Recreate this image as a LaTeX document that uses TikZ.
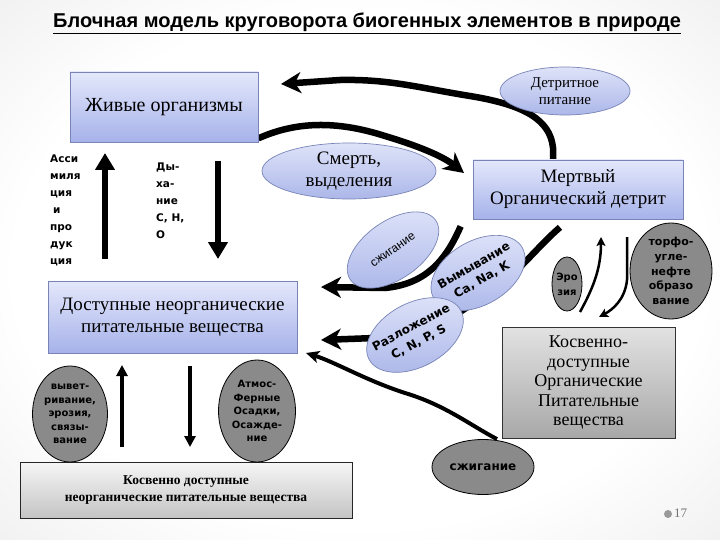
\documentclass[tikz,border=0pt]{standalone}
\usepackage{fontspec}
\usepackage{graphicx}
\setmainfont{Liberation Serif}
\newfontfamily\dvs{DejaVu Sans}
\newfontfamily\lsans{Liberation Sans}
\usetikzlibrary{arrows.meta,shapes.geometric,calc}
\newcommand{\fsz}[2]{\fontsize{#1}{#2}\selectfont}
\definecolor{bbtop}{RGB}{228,232,251}
\definecolor{bbbot}{RGB}{166,178,234}
\definecolor{bbdraw}{RGB}{120,132,182}
\definecolor{betop}{RGB}{222,227,249}
\definecolor{bebot}{RGB}{172,183,233}
\definecolor{gell}{RGB}{138,138,138}
\definecolor{gtop}{RGB}{226,226,226}
\definecolor{gbot}{RGB}{168,168,168}
\definecolor{g2top}{RGB}{246,246,246}
\definecolor{g2bot}{RGB}{196,196,196}
\pgfdeclareradialshading{vign}{\pgfpoint{0bp}{0bp}}{color(0bp)=(white); color(24bp)=(white); color(50bp)=(black!12); color(72bp)=(black!26)}
\pgfdeclarelayer{back}
\pgfdeclarelayer{arr}
\pgfsetlayers{back,arr,main}
\begin{document}
\begin{tikzpicture}[x=1pt,y=-1pt,
  every node/.style={inner sep=0pt},
  bluebox/.style={draw=bbdraw, line width=0.7pt, top color=bbtop, bottom color=bbbot, align=center, rectangle},
  blueell/.style={ellipse, draw=bbdraw, line width=0.7pt, top color=betop, bottom color=bebot},
  grayell/.style={ellipse, draw=black, line width=0.8pt, fill=gell},
  graybox/.style={rectangle, draw=black!80, line width=0.8pt, top color=gtop, bottom color=gbot},
  txt/.style={align=center},
  sanslab/.style={align=left, font=\dvs\bfseries\fsz{10.5}{17}},
  ellab/.style={align=center, font=\dvs\bfseries\fsz{10}{13.5}},
  thickarr/.style={line width=6.5pt, -{Stealth[length=20pt,width=21pt,inset=6pt]}},
  medarr/.style={line width=4pt, -{Stealth[length=13pt,width=12pt,inset=3pt]}},
  vertarr/.style={line width=6.5pt, -{Triangle[length=17pt,width=19pt]}},
  thinvert/.style={line width=3.5pt, -{Triangle[length=11pt,width=11pt]}},
  smallarr/.style={line width=2.5pt, -{Stealth[length=9pt,width=9pt,inset=2pt]}}
]
\useasboundingbox (0,0) rectangle (720,540);
\begin{pgfonlayer}{back}
\shade[shading=vign] (0,0) rectangle (720,540);
\end{pgfonlayer}

% title
\node[font=\lsans\bfseries\fsz{20}{22}] (title) at (367,23) {\underline{Блочная модель круговорота биогенных элементов в природе}};

% boxes
\node[bluebox, minimum width=188, minimum height=70, font=\fsz{20}{24}] (live) at (164,107) {Живые организмы};
\node[bluebox, minimum width=210, minimum height=59, font=\fsz{19}{22}] (mert) at (578,189.5) {Мертвый\\Органический детрит};
\node[bluebox, minimum width=249, minimum height=72, font=\fsz{19}{22}] (dost) at (172.5,317) {Доступные неорганические\\питательные вещества};
\node[graybox, minimum width=173, minimum height=111, align=center, font=\fsz{18}{19.5}] (kosorg) at (588.5,382.5) {Косвенно-\\доступные\\Органические\\Питательные\\вещества};
\node[rectangle, draw=black!85, line width=0.8pt, top color=g2top, bottom color=g2bot, minimum width=332, minimum height=56, align=center, font=\bfseries\fsz{13.5}{17}] (kosneorg) at (186,490) {Косвенно доступные\\неорганические питательные вещества};

% blue ellipses
\node[blueell, minimum width=130, minimum height=48] (detr) at (565,91) {};
\node[txt, font=\fsz{15}{17}] (detrT) at (detr) {Детритное\\питание};
\node[blueell, minimum width=174, minimum height=56] (smert) at (349,171) {};
\node[txt, font=\fsz{19}{22}] (smertT) at (smert) {Смерть,\\выделения};

% labels beside arrows
\node[sanslab, anchor=north west] (assim) at (50,155) {Асси\\миля\\ция\\\hspace{3pt}и\\про\\дук\\ция};
\node[sanslab, anchor=north west] (dyh) at (156,163) {Ды-\\ха-\\ние\\С, Н,\\О};

% gray ellipses
\node[grayell, minimum width=75, minimum height=96] (vyv) at (70,414) {};
\node[ellab] (vyvT) at (vyv) {вывет-\\ривание,\\эрозия,\\связы-\\вание};
\node[grayell, minimum width=77, minimum height=102] (atm) at (257,411) {};
\node[ellab] (atmT) at (atm) {Атмос-\\Ферные\\Осадки,\\Осажде-\\ние};
\node[grayell, minimum width=102, minimum height=55] (szh2) at (483,467) {};
\node[font=\dvs\bfseries\fsz{12}{14}] (szh2T) at (szh2) {сжигание};
\node[grayell, minimum width=30, minimum height=54] (ero) at (567,284) {};
\node[ellab, font=\dvs\bfseries\fsz{10}{15}] (eroT) at (ero) {Эро\\зия};
\node[grayell, minimum width=82, minimum height=96] (torf) at (671,271) {};
\node[ellab, font=\dvs\bfseries\fsz{11}{14.8}] (torfT) at (torf) {торфо-\\угле-\\нефте\\образо\\вание};

% rotated blue ellipses
\node[blueell, minimum width=104, minimum height=58, rotate=35] (szh1) at (393,250) {};
\node[font=\lsans\fsz{12}{14}, rotate=35] (szh1T) at (szh1) {сжигание};
\node[blueell, minimum width=102, minimum height=64, rotate=30] (vym) at (478,273) {};
\node[txt, font=\dvs\bfseries\fsz{12}{16}, rotate=30] (vymT) at (vym) {Вымывание\\Ca, Na, K};
\node[blueell, minimum width=104, minimum height=64, rotate=28] (razl) at (415,335) {};
\node[txt, font=\dvs\bfseries\fsz{12}{16}, rotate=28] (razlT) at (razl) {Разложение\\C, N, P, S};

% page number
\fill[black!40] (668,514) circle (4);
\node[anchor=west, text=black!55, font=\fsz{13}{15}] (pn) at (674,513) {17};

% coordinates for free arrow ends
\coordinate (aEnd) at (281,84);
\coordinate (bEnd) at (464,173);
\coordinate (cEnd) at (321,287);
\coordinate (dEnd) at (321,340);
\coordinate (eEnd) at (306,353);
\coordinate (u1s) at (105,259);
\coordinate (u1e) at (105,153);
\coordinate (d1s) at (218,161);
\coordinate (d1e) at (218,259);
\coordinate (u2s) at (122,447);
\coordinate (u2e) at (122,365);
\coordinate (d2s) at (190,366);
\coordinate (d2e) at (190,447);
\coordinate (eu1s) at (580,312);
\coordinate (eu1e) at (601,237);
\coordinate (ed1s) at (627,237);
\coordinate (ed1e) at (599,317);

\begin{pgfonlayer}{arr}
\draw[thickarr] ([xshift=-25pt]mert.north) -- ++(0,-12) .. controls (550,120) and (525,105) .. (470,96) .. controls (420,88) and (390,79) .. (340,80) -- (aEnd);
\draw[thickarr] ([yshift=4pt]live.south east) .. controls (295,122) and (335,120) .. (385,136) .. controls (425,148) and (445,158) .. (bEnd);
\draw[thickarr] ([xshift=-12pt,yshift=-7pt]mert.south west) .. controls (445,262) and (425,284) .. (385,288) -- (cEnd);
\draw[thickarr] ([xshift=-18pt,yshift=-8pt]mert.south) .. controls (545,240) and (530,258) .. (505,282) -- (445,322) .. controls (425,333) and (405,337) .. (375,338) -- (dEnd);
\draw[medarr] ([xshift=14pt]szh2.north) .. controls (470,425) and (445,405) .. (405,393) .. controls (365,380) and (335,362) .. (eEnd);
\draw[vertarr] (u1s) -- (u1e);
\draw[vertarr] (d1s) -- (d1e);
\draw[thinvert] (u2s) -- (u2e);
\draw[thinvert] (d2s) -- (d2e);
\draw[smallarr] (eu1s) .. controls (592,290) and (601,270) .. (eu1e);
\draw[smallarr] (ed1s) -- (627,280) .. controls (625,300) and (612,310) .. (ed1e);
\end{pgfonlayer}
\end{tikzpicture}
\end{document}
